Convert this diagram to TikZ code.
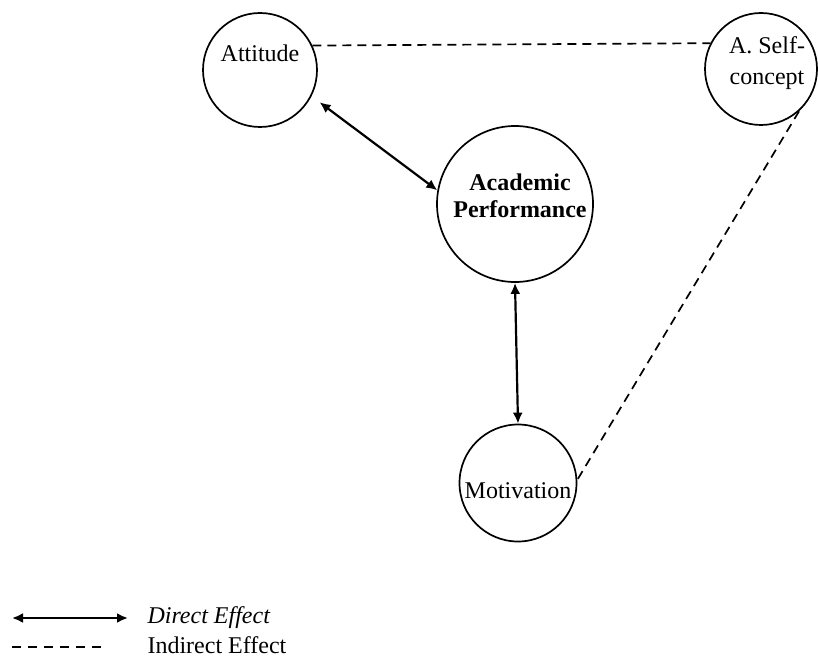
\documentclass[tikz,border=0pt]{standalone}
\usepackage{fontspec}
\setmainfont{Liberation Serif}
\usetikzlibrary{shapes, arrows.meta}

\begin{document}
\begin{tikzpicture}[x=1pt, y=-1pt,
every node/.style={font=\fontsize{24}{27}\selectfont},
bubble/.style={circle, draw, line width=1.7pt, inner sep=0pt},
line/.style={draw, line width=2.2pt,
{Latex[length=11pt,width=10pt]}-{Latex[length=11pt,width=10pt]}},
indirect/.style={draw, line width=1.7pt, dash pattern=on 9pt off 6pt}
]
\useasboundingbox (0,0) rectangle (818,663);

\node [bubble, minimum size=114pt,
label={[name=att-txt, yshift=17pt]center:Attitude}] (att) at (260,70) {};
\node [bubble, minimum size=112pt,
label={[name=self-txt, align=center, xshift=6pt, yshift=6pt,
font=\fontsize{24}{31}\selectfont]center:A. Self-\\concept}] (self) at (761,69) {};
\node [bubble, minimum size=156pt,
label={[name=ap-txt, align=center, xshift=5pt, yshift=8pt,
font=\fontsize{24}{27}\selectfont\bfseries]center:Academic\\Performance}] (ap) at (515,204) {};
\node [bubble, minimum size=117pt,
label={[name=mot-txt, yshift=-8pt]center:Motivation}] (mot) at (518,483) {};

\path [line, shorten <=10pt] (att.-27) -- (ap.170);
\path [line] (ap.south) -- (mot.north);
\path [indirect] (att.25) -- (self.153);
\path [indirect] (self.-48) -- (mot.3);

% legend
\coordinate (direct-a) at (12,618);
\coordinate (direct-b) at (128,618);
\coordinate (indirect-a) at (12,647);
\coordinate (indirect-b) at (108,647);
\path [line] (direct-a) -- (direct-b);
\path [indirect, dash pattern=on 9pt off 7pt] (indirect-a) -- (indirect-b);
\node [anchor=west] (direct-txt) at (144,618) {\itshape Direct Effect};
\node [anchor=west] (indirect-txt) at (144,645) {Indirect Effect};
\end{tikzpicture}
\end{document}
